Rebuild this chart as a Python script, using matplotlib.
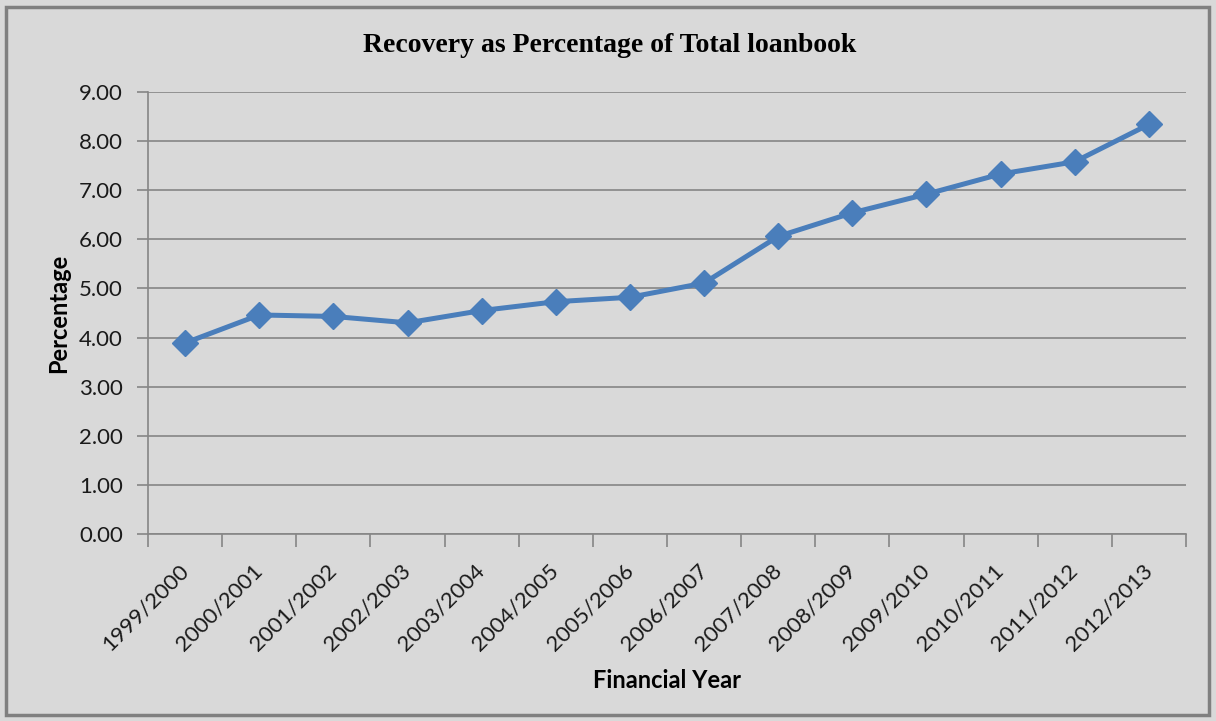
import matplotlib
matplotlib.use("Agg")
import matplotlib.pyplot as plt
from matplotlib.patches import Rectangle
from matplotlib.ticker import FixedLocator

years = ["1999/2000", "2000/2001", "2001/2002", "2002/2003", "2003/2004", "2004/2005",
         "2005/2006", "2006/2007", "2007/2008", "2008/2009", "2009/2010", "2010/2011",
         "2011/2012", "2012/2013"]
recovery = [3.89, 4.46, 4.43, 4.30, 4.55, 4.73, 4.82, 5.11, 6.06, 6.54, 6.92, 7.33, 7.58, 8.34]
y_ticks = [0, 1, 2, 3, 4, 5, 6, 7, 8, 9]

W, H = 1216, 721
fig = plt.figure(figsize=(W / 100, H / 100), dpi=100)
fig.patch.set_facecolor("#d9d9d9")
fig.patches.append(Rectangle((6 / W, 6 / H), (W - 13) / W, (H - 13) / H, transform=fig.transFigure,
                             fill=False, edgecolor="#808080", linewidth=2.5))

ax = fig.add_axes([148 / W, (H - 534) / H, (1186 - 148) / W, (534 - 92) / H])
ax.set_facecolor("#d9d9d9")

x = list(range(len(years)))
ax.plot(x, recovery, color="#4a7ebb", linewidth=3.6, marker="D", markersize=13,
        markerfacecolor="#4a7ebb", markeredgecolor="#4a7ebb", zorder=3)

ax.set_xlim(-0.5, len(years) - 0.5)
ax.set_ylim(0, 9)
ax.set_yticks(y_ticks)
ax.set_yticklabels([f"{v:.2f}" for v in y_ticks], fontsize=16, family="Lato", color="#1a1a1a")
ax.yaxis.grid(True, color="#868686", linewidth=1.2)
ax.set_axisbelow(True)

ax.set_xticks(x)
ax.set_xticklabels(years, rotation=45, ha="right", va="center", rotation_mode="anchor",
                   fontsize=16, family="Lato", color="#1a1a1a")
ax.xaxis.set_minor_locator(FixedLocator([i - 0.5 for i in range(len(years) + 1)]))
ax.tick_params(axis="x", which="major", length=0, pad=24)
ax.tick_params(axis="x", which="minor", length=9, color="#868686", width=1.2)
ax.tick_params(axis="y", length=8, color="#868686", width=1.2, pad=10)

for s in ["top", "right"]:
    ax.spines[s].set_visible(False)
for s in ["left", "bottom"]:
    ax.spines[s].set_color("#868686")
    ax.spines[s].set_linewidth(1.2)

fig.text(59 / W, 1 - 313 / H, "Percentage", ha="center", va="center", rotation=90,
         fontsize=17, fontweight="bold", family="Lato")
fig.text(667 / W, 1 - 681 / H, "Financial Year", ha="center", va="center",
         fontsize=17, fontweight="bold", family="Lato")
fig.text(610 / W, 1 - 45 / H, "Recovery as Percentage of Total loanbook", ha="center", va="center",
         fontsize=20, fontweight="bold", family="Liberation Serif")

fig.savefig("out.png", dpi=100, facecolor=fig.get_facecolor())
